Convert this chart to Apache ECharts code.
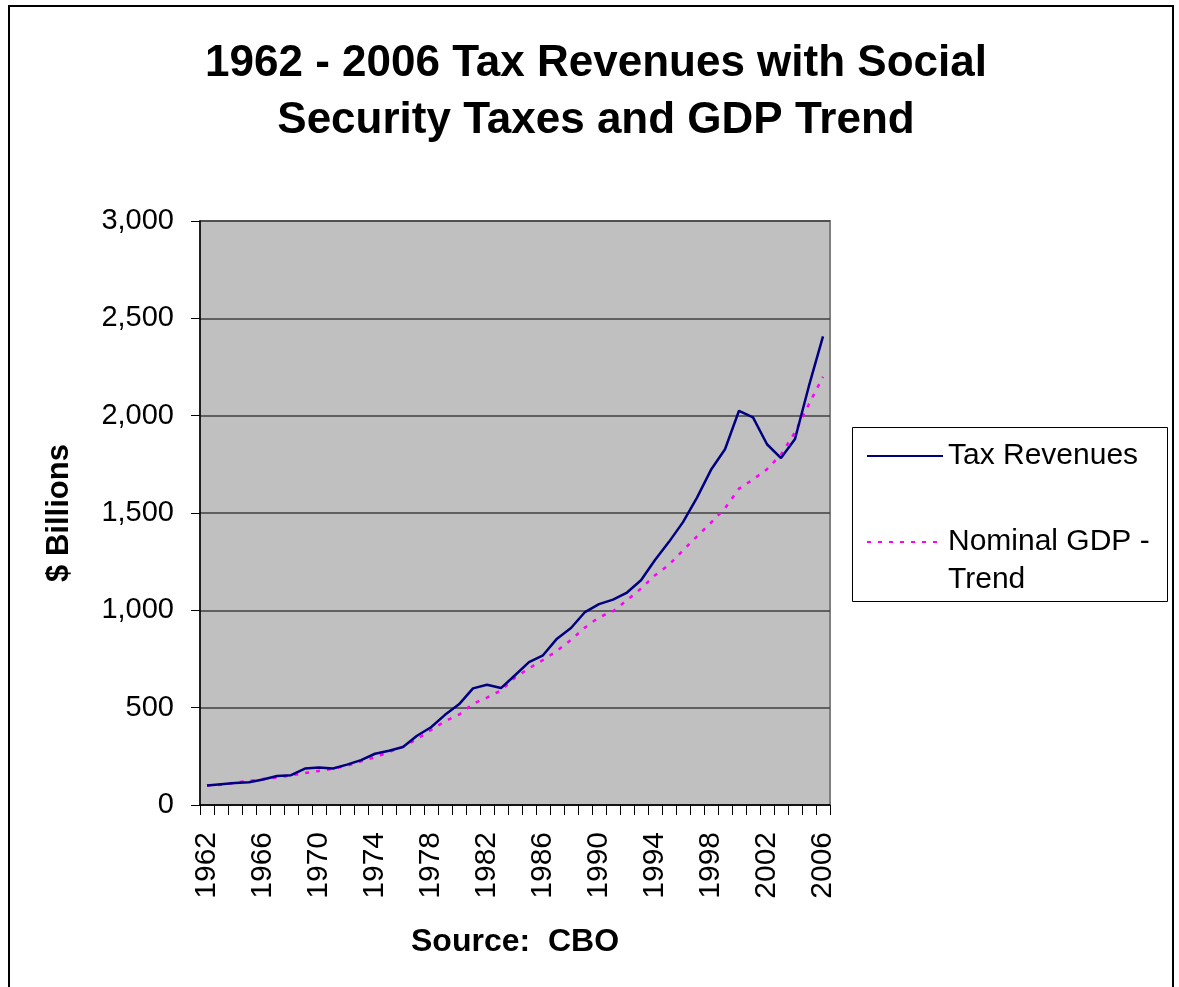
<!DOCTYPE html>
<html>
<head>
<meta charset="utf-8">
<title>1962 - 2006 Tax Revenues with Social Security Taxes and GDP Trend</title>
<script src="https://cdn.jsdelivr.net/npm/echarts@6/dist/echarts.min.js"></script>
<style>
  html, body { margin: 0; padding: 0; background: #fff; }
  #chart { width: 1179px; height: 987px; }
</style>
</head>
<body>
<div id="chart"></div>
<script>
// Fiscal years shown on the category axis
const years = [
  '1962','1963','1964','1965','1966','1967','1968','1969','1970','1971',
  '1972','1973','1974','1975','1976','1977','1978','1979','1980','1981',
  '1982','1983','1984','1985','1986','1987','1988','1989','1990','1991',
  '1992','1993','1994','1995','1996','1997','1998','1999','2000','2001',
  '2002','2003','2004','2005','2006'
];

// Total federal tax revenues, $ billions (CBO)
const taxRevenues = [
  99.7, 106.6, 112.6, 116.8, 130.8, 148.8, 153.0, 186.9, 192.8, 187.1,
  207.3, 230.8, 263.2, 279.1, 298.1, 355.6, 399.6, 463.3, 517.1, 599.3,
  617.8, 600.6, 666.5, 734.1, 769.2, 854.4, 909.3, 991.2, 1032.0, 1055.0,
  1091.3, 1154.4, 1258.6, 1351.8, 1453.1, 1579.3, 1721.8, 1827.5, 2025.2, 1991.2,
  1853.2, 1782.3, 1880.1, 2153.9, 2407.3
];

// Revenues tracking nominal GDP growth, $ billions
const gdpTrend = [
  100, 104, 115, 124, 133, 142, 152, 164, 175, 186,
  202, 224, 245, 272, 300, 338, 385, 430, 464, 520,
  552, 588, 655, 702, 745, 792, 848, 912, 964, 995,
  1052, 1112, 1180, 1234, 1308, 1380, 1450, 1525, 1625, 1672,
  1725, 1800, 1915, 2060, 2200
];

const yMin = 0, yMax = 3000, yStep = 500;

const FONT = '"Liberation Sans", Arial, sans-serif';

const chart = echarts.init(document.getElementById('chart'), null, { renderer: 'canvas' });

// Legend entries: the icon sits beside the first text line, so the
// two-line label carries an empty leading line to centre on it.
const legendText = { fontFamily: FONT, fontSize: 30, color: '#000', lineHeight: 38 };

chart.setOption({
  backgroundColor: '#ffffff',
  animation: false,
  title: {
    text: '1962 - 2006 Tax Revenues with Social\nSecurity Taxes and GDP Trend',
    left: 596,
    top: 35,
    padding: 0,
    textAlign: 'center',
    textStyle: {
      fontFamily: FONT,
      fontSize: 44,
      fontWeight: 'bold',
      color: '#000',
      lineHeight: 57
    }
  },
  graphic: [
    {
      type: 'rect',
      z: -1,
      shape: { x: 9, y: 6, width: 1164, height: 1000 },
      style: { fill: 'none', stroke: '#000', lineWidth: 2 }
    },
    {
      type: 'rect',
      z: 1,
      shape: { x: 852.5, y: 427.5, width: 315, height: 174 },
      style: { fill: '#fff', stroke: '#000', lineWidth: 1 }
    }
  ],
  legend: [
    {
      data: ['Tax Revenues'],
      orient: 'vertical',
      left: 866,
      top: 437,
      padding: 0,
      z: 5,
      itemWidth: 76,
      itemHeight: 14,
      selectedMode: false,
      itemStyle: { opacity: 0 },
      textStyle: legendText
    },
    {
      data: ['Nominal GDP - Trend'],
      orient: 'vertical',
      left: 866,
      top: 485,
      padding: 0,
      z: 5,
      itemWidth: 76,
      itemHeight: 14,
      selectedMode: false,
      itemStyle: { opacity: 0 },
      formatter: function () { return ' \nNominal GDP -\nTrend'; },
      textStyle: legendText
    }
  ],
  grid: {
    left: 200,
    right: 349,
    top: 221,
    bottom: 182,
    show: true,
    backgroundColor: '#c0c0c0',
    borderColor: '#808080',
    borderWidth: 2
  },
  xAxis: {
    type: 'category',
    data: years,
    boundaryGap: true,
    name: 'Source:  CBO',
    nameLocation: 'middle',
    nameGap: 121,
    nameTextStyle: { fontFamily: FONT, fontSize: 32, fontWeight: 'bold', color: '#000' },
    axisLine: { show: true, lineStyle: { color: '#000', width: 1.5 } },
    axisTick: { show: true, interval: 0, length: 10, lineStyle: { color: '#000', width: 1 } },
    axisLabel: {
      interval: 3,
      rotate: 90,
      margin: 27,
      fontFamily: FONT,
      fontSize: 30,
      color: '#000'
    },
    splitLine: { show: false }
  },
  yAxis: {
    type: 'value',
    min: yMin,
    max: yMax,
    interval: yStep,
    name: '$ Billions',
    nameLocation: 'middle',
    nameRotate: 90,
    nameGap: 125,
    nameTextStyle: { fontFamily: FONT, fontSize: 31, fontWeight: 'bold', color: '#000' },
    axisLine: { show: true, lineStyle: { color: '#000', width: 1.5 } },
    axisTick: { show: true, length: 9, lineStyle: { color: '#000', width: 1 } },
    axisLabel: {
      margin: 26,
      fontFamily: FONT,
      fontSize: 29,
      color: '#000',
      formatter: function (v) { return v.toLocaleString('en-US'); }
    },
    splitLine: { show: true, lineStyle: { color: '#404040', width: 1.5 } }
  },
  series: [
    {
      name: 'Tax Revenues',
      type: 'line',
      data: taxRevenues,
      symbol: 'none',
      z: 3,
      lineStyle: { color: '#000080', width: 2.5 },
      itemStyle: { color: '#000080' }
    },
    {
      name: 'Nominal GDP - Trend',
      type: 'line',
      data: gdpTrend,
      symbol: 'none',
      z: 2,
      lineStyle: { color: '#ff00ff', width: 2.5, type: [4, 7] },
      itemStyle: { color: '#ff00ff' }
    }
  ]
});
</script>
</body>
</html>
